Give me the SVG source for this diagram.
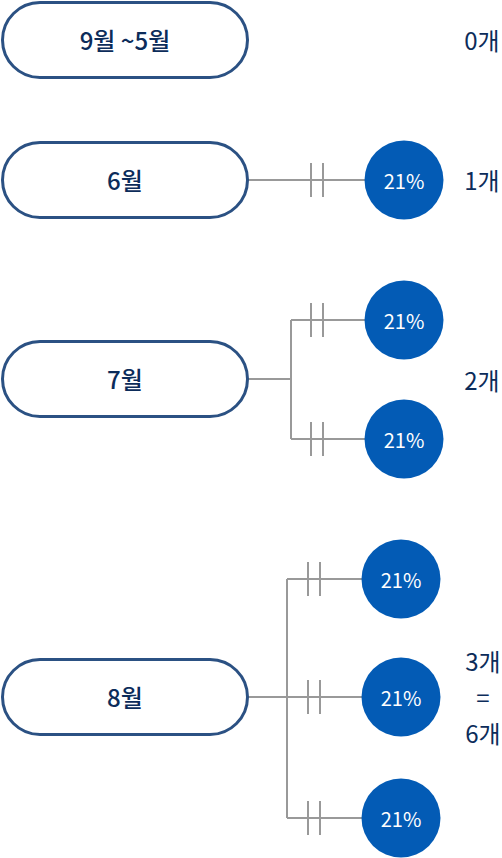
<svg xmlns="http://www.w3.org/2000/svg" width="502" height="858" viewBox="0 0 502 858">
<style>
.pill{fill:#fff;stroke:#2b5183;stroke-width:3}
.pt{font-family:"Noto Sans CJK KR","Noto Sans",sans-serif;font-size:24px;font-weight:500;fill:#0c2c5a;text-anchor:middle;dominant-baseline:central}
.ct{font-family:"Noto Sans CJK KR","Noto Sans",sans-serif;font-size:24px;fill:#0c2c5a;text-anchor:middle;dominant-baseline:central}
.c{fill:#035bb5}
.pc{font-family:"Noto Sans CJK KR","Noto Sans",sans-serif;font-size:20px;fill:#fff;text-anchor:middle;dominant-baseline:central}
.ln{fill:none;stroke:#999;stroke-width:2}
</style>
<g id="connectors">
<path class="ln" d="M248 180H365M311 163V197M323 163V197"/>
<path class="ln" d="M248 379H291M291 320V439M291 320H365M291 439H365M311 303V337M323 303V337M311 422V456M323 422V456"/>
<path class="ln" d="M248 697H362M287 579V818M287 579H362M287 818H362M308 562V596M320 562V596M308 680V714M320 680V714M308 801V835M320 801V835"/>
</g>
<g id="n-sep-may"><rect class="pill" x="2.5" y="2.5" width="245" height="75" rx="37.5"/><text class="pt" x="125" y="39">9월 ~5월</text></g>
<g id="n-jun"><rect class="pill" x="2.5" y="142.5" width="245" height="75" rx="37.5"/><text class="pt" x="125" y="179">6월</text></g>
<g id="n-jul"><rect class="pill" x="2.5" y="341.5" width="245" height="75" rx="37.5"/><text class="pt" x="125" y="378">7월</text></g>
<g id="n-aug"><rect class="pill" x="2.5" y="659.5" width="245" height="75" rx="37.5"/><text class="pt" x="125" y="696">8월</text></g>
<g id="c-jun"><circle class="c" cx="404" cy="180" r="39.5"/><text class="pc" x="404" y="180">21%</text></g>
<g id="c-jul1"><circle class="c" cx="404" cy="320" r="39.5"/><text class="pc" x="404" y="320">21%</text></g>
<g id="c-jul2"><circle class="c" cx="404" cy="439" r="39.5"/><text class="pc" x="404" y="439">21%</text></g>
<g id="c-aug1"><circle class="c" cx="401" cy="579" r="39.5"/><text class="pc" x="401" y="579">21%</text></g>
<g id="c-aug2"><circle class="c" cx="401" cy="697" r="39.5"/><text class="pc" x="401" y="697">21%</text></g>
<g id="c-aug3"><circle class="c" cx="401" cy="818" r="39.5"/><text class="pc" x="401" y="818">21%</text></g>
<g id="counts">
<text class="ct" x="482" y="39">0개</text>
<text class="ct" x="482" y="179">1개</text>
<text class="ct" x="482" y="379">2개</text>
<text class="ct" x="483" y="660">3개</text>
<text class="ct" x="483" y="696">=</text>
<text class="ct" x="483" y="732">6개</text>
</g>
</svg>
